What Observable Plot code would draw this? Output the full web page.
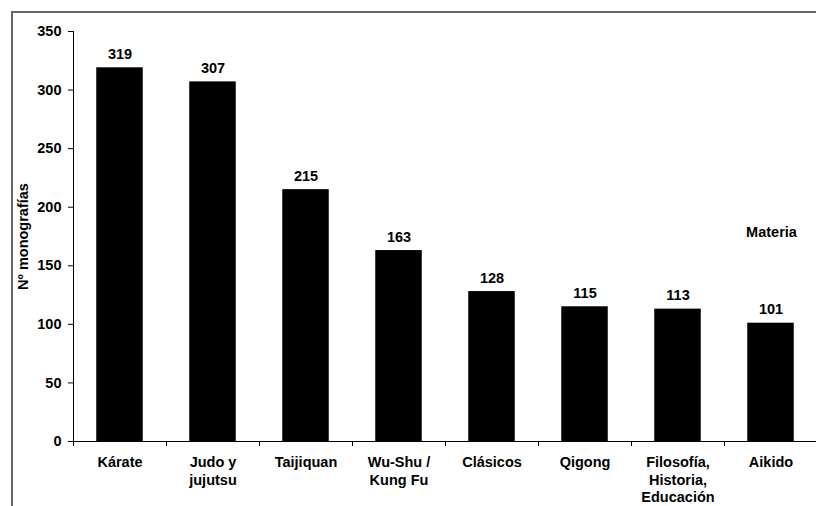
<!DOCTYPE html>
<html>
<head>
<meta charset="utf-8">
<script src="https://cdn.jsdelivr.net/npm/d3@7"></script>
<script src="https://cdn.jsdelivr.net/npm/@observablehq/plot@0.6"></script>
<style>
  html, body { margin: 0; padding: 0; background: white; }
  #wrap { position: relative; width: 816px; height: 506px; overflow: hidden; }
  #border { position: absolute; left: 11px; top: 11px; width: 900px; height: 600px;
            border-top: 2px solid #666; border-left: 2px solid #666; pointer-events: none; }
</style>
</head>
<body>
<div id="wrap"><div id="border"></div></div>
<script>
const categories = ["Kárate", "Judo y\njujutsu", "Taijiquan", "Wu-Shu /\nKung Fu", "Clásicos", "Qigong", "Filosofía,\nHistoria,\nEducación", "Aikido"];
const values = [319, 307, 215, 163, 128, 115, 113, 101];
const yTicks = [0, 50, 100, 150, 200, 250, 300, 350];
const yTitle = "Nº monografías";
const xTitle = "Materia";

const data = categories.map((c, i) => ({i, c, v: values[i]}));
const font = "'Liberation Sans', Arial, sans-serif";

const chart = Plot.plot({
  width: 816,
  height: 506,
  marginLeft: 73,
  marginRight: -1,
  marginTop: 31,
  marginBottom: 65,
  style: {fontFamily: font, fontSize: "14.5px", color: "black", background: "transparent", overflow: "visible"},
  x: {type: "linear", domain: [0, categories.length], axis: null},
  y: {domain: [0, 350], axis: null},
  marks: [
    Plot.rectY(data, {x1: d => d.i + 0.25, x2: d => d.i + 0.75, y: "v", fill: "black"}),
    Plot.ruleX([0], {y1: 0, y2: 350, stroke: "black", strokeWidth: 1}),
    Plot.ruleY([0], {stroke: "black", strokeWidth: 1}),
    Plot.axisY({ticks: yTicks, tickSize: 5, tickPadding: 7, fontWeight: "bold", fontSize: 14.5, stroke: "black",
      label: yTitle, labelAnchor: "center", labelArrow: "none", labelOffset: 56}),
    Plot.axisX({ticks: d3.range(0, categories.length + 1), tickSize: 5, tickFormat: () => "", label: null, stroke: "black"}),
    Plot.text(data, {x: d => d.i + 0.5, y: "v", text: d => String(d.v), dy: -9, lineAnchor: "bottom",
      fontWeight: "bold", fontSize: 14.5, fill: "black"}),
    Plot.text(data, {x: d => d.i + 0.5, y: 0, text: "c", dy: 13, lineAnchor: "top", lineHeight: 1.22,
      fontWeight: "bold", fontSize: 14.5, fill: "black"}),
    Plot.text([xTitle], {frameAnchor: "right", text: d => d, dx: -46, dy: -4, textAnchor: "middle",
      fontWeight: "bold", fontSize: 14.5, fill: "black"})
  ]
});
chart.querySelectorAll("text").forEach(t => {
  if (t.textContent === yTitle) t.setAttribute("font-weight", "bold");
});
document.getElementById("wrap").prepend(chart);
</script>
</body>
</html>
